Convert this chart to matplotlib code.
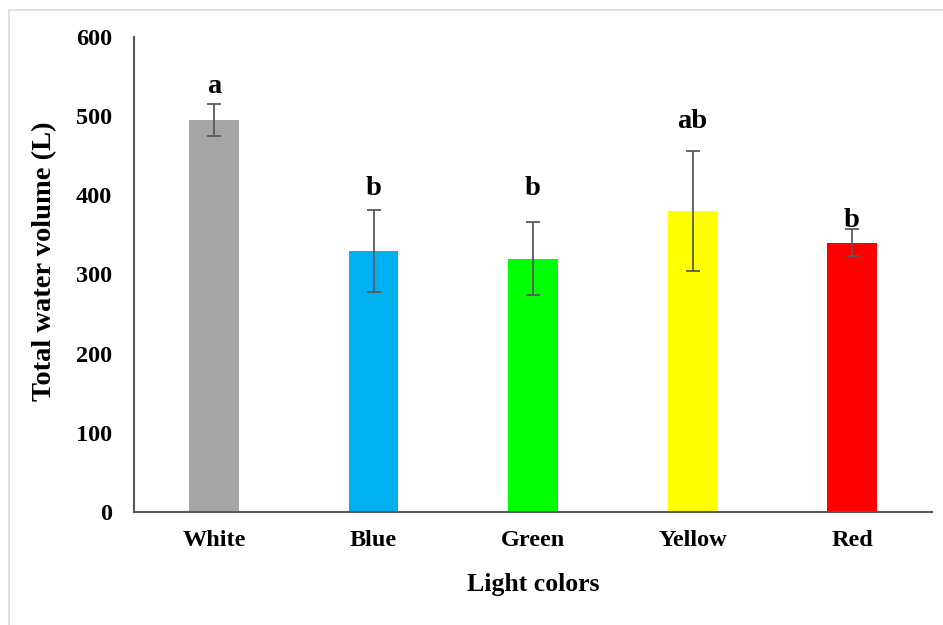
import matplotlib.pyplot as plt
from matplotlib.patches import Rectangle

colors_names = ['White', 'Blue', 'Green', 'Yellow', 'Red']
volume = [495, 330, 320, 380, 340]
err = [20, 52, 46, 76, 17]
letters = ['a', 'b', 'b', 'ab', 'b']
letter_y = [529, 400, 400, 485, 360]
bar_colors = ['#a5a5a5', '#00b0f0', '#00ff00', '#ffff00', '#ff0000']

plt.rcParams['font.family'] = ['Liberation Serif', 'DejaVu Serif']
plt.rcParams['font.weight'] = 'bold'

fig = plt.figure(figsize=(9.43, 6.25), dpi=100)
fig.patches.append(Rectangle((9 / 943, -0.1), 1.2, 1 - 10 / 625 + 0.1,
                             transform=fig.transFigure, fill=False,
                             edgecolor='#d9d9d9', linewidth=1.2))
ax = fig.add_axes([134.25 / 943, 1 - 512 / 625, 797.5 / 943, 475 / 625])

x = range(len(colors_names))
ax.bar(x, volume, width=0.31, color=bar_colors,
       yerr=err, capsize=5, error_kw=dict(ecolor='#595959', elinewidth=1.3, capthick=1.3))

for i, (lab, ly) in enumerate(zip(letters, letter_y)):
    ax.text(i, ly, lab, ha='center', va='baseline', fontsize=20.5, fontweight='bold')

ax.set_xlim(-0.5, 4.5)
ax.set_ylim(0, 600)
ax.set_yticks(range(0, 601, 100))
ax.set_xticks(list(x))
ax.set_xticklabels(colors_names)
ax.tick_params(axis='both', length=0, labelsize=17.5)
ax.tick_params(axis='y', pad=16)
ax.tick_params(axis='x', pad=13)
for lbl in ax.get_xticklabels() + ax.get_yticklabels():
    lbl.set_fontweight('bold')

for s in ['top', 'right']:
    ax.spines[s].set_visible(False)
for s in ['left', 'bottom']:
    ax.spines[s].set_color('#595959')
    ax.spines[s].set_linewidth(1.5)

ax.set_ylabel('Total water volume (L)', fontsize=20.5, fontweight='bold')
ax.yaxis.set_label_coords(-0.097, 0.528)
ax.set_xlabel('Light colors', fontsize=18.5, fontweight='bold', labelpad=16)

fig.savefig('out.png', dpi=100)
